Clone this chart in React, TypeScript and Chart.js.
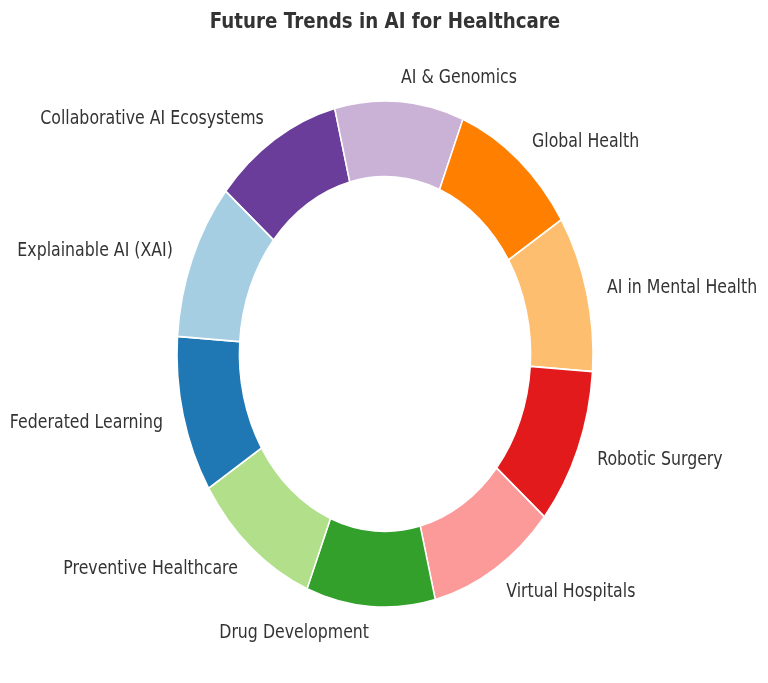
import { useEffect, useRef } from "react";
import { Chart, registerables } from "chart.js";

Chart.register(...registerables);

const TITLE = "Future Trends in AI for Healthcare";
const CATEGORIES = [
  "Explainable AI (XAI)",
  "Federated Learning",
  "Preventive Healthcare",
  "Drug Development",
  "Virtual Hospitals",
  "Robotic Surgery",
  "AI in Mental Health",
  "Global Health",
  "AI & Genomics",
  "Collaborative AI Ecosystems",
];
const VALUES = [10, 10, 10, 10, 10, 10, 10, 10, 10, 10];
const COLORS = [
  "#a6cee3",
  "#1f78b4",
  "#b2df8a",
  "#33a02c",
  "#fb9a99",
  "#e31a1c",
  "#fdbf6f",
  "#ff7f00",
  "#cab2d6",
  "#6a3d9a",
];

const SY = 252 / 207; // vertical stretch of the ring
const SX = 0.83; // horizontal squeeze of text
const LABEL_FS = 19;
const TITLE_FS = 22;
const FONT = "'DejaVu Sans', sans-serif";
const TEXT_COLOR = "#333333";

const ellipsePlugin = {
  id: "ellipse",
  beforeDatasetsDraw(chart: any) {
    const arc = chart.getDatasetMeta(0).data[0];
    const ctx = chart.ctx;
    ctx.save();
    ctx.translate(arc.x, arc.y);
    ctx.scale(1, SY);
    ctx.translate(-arc.x, -arc.y);
  },
  afterDatasetsDraw(chart: any) {
    chart.ctx.restore();
  },
};

const labelPlugin = {
  id: "outerLabels",
  afterDraw(chart: any) {
    const ctx = chart.ctx;
    const meta = chart.getDatasetMeta(0);
    const labels = chart.data.labels as string[];
    ctx.save();
    ctx.fillStyle = TEXT_COLOR;
    ctx.font = `${LABEL_FS}px ${FONT}`;
    ctx.textBaseline = "alphabetic";
    meta.data.forEach((arc: any, i: number) => {
      const mid = (arc.startAngle + arc.endAngle) / 2;
      const r = arc.outerRadius * 1.1;
      const x = arc.x + Math.cos(mid) * r;
      const y = arc.y + Math.sin(mid) * r * SY;
      ctx.save();
      ctx.translate(x, y + 0.34 * LABEL_FS);
      ctx.scale(SX, 1);
      ctx.textAlign = Math.cos(mid) >= 0 ? "left" : "right";
      ctx.fillText(labels[i], 0, 0);
      ctx.restore();
    });
    // title
    const cx = meta.data[0].x;
    ctx.save();
    ctx.font = `bold ${TITLE_FS}px ${FONT}`;
    ctx.fillStyle = TEXT_COLOR;
    ctx.textAlign = "center";
    ctx.translate(cx, 28);
    ctx.scale(SX, 1);
    ctx.fillText(TITLE, 0, 0);
    ctx.restore();
    ctx.restore();
  },
};

export default function App() {
  const ref = useRef<HTMLCanvasElement>(null);
  useEffect(() => {
    if (!ref.current) return;
    const labels = [...CATEGORIES].reverse();
    const data = [...VALUES].reverse();
    const colors = [...COLORS].reverse();
    const chart = new Chart(ref.current, {
      type: "doughnut",
      data: {
        labels,
        datasets: [
          {
            data,
            backgroundColor: colors,
            borderColor: "#ffffff",
            borderWidth: 1.5,
            clip: false as any,
          },
        ],
      },
      options: {
        animation: false,
        responsive: true,
        maintainAspectRatio: false,
        events: [],
        rotation: -50,
        radius: 208,
        cutout: "70%",
        layout: { padding: { left: 2, right: 0, top: 25, bottom: 0 } },
        plugins: {
          legend: { display: false },
          tooltip: { enabled: false },
          title: { display: false },
        },
      } as any,
      plugins: [ellipsePlugin, labelPlugin],
    });
    return () => chart.destroy();
  }, []);
  return (
    <div style={{ position: "absolute", left: 0, top: 0, width: 768, height: 683, background: "#ffffff" }}>
      <canvas ref={ref} />
    </div>
  );
}
